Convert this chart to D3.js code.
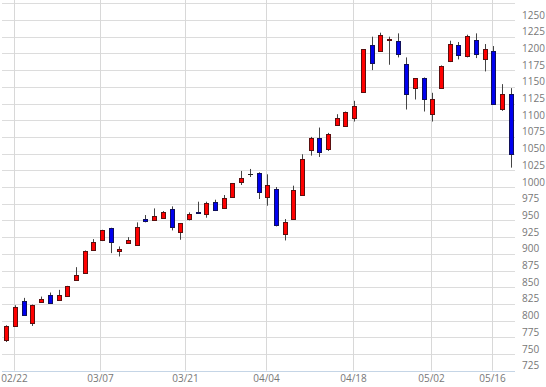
<!DOCTYPE html>
<html><head><meta charset="utf-8">
<script src="https://cdn.jsdelivr.net/npm/d3@7"></script>
<style>html,body{margin:0;padding:0;background:#fff;}svg{display:block;}</style>
</head><body>
<svg id="c" width="546" height="387"></svg>
<script>
const dates = ["2016-02-19","2016-02-22","2016-02-23","2016-02-24","2016-02-25","2016-02-26","2016-02-29","2016-03-01","2016-03-02","2016-03-03","2016-03-04","2016-03-07","2016-03-08","2016-03-09","2016-03-10","2016-03-11","2016-03-14","2016-03-15","2016-03-16","2016-03-17","2016-03-18","2016-03-22","2016-03-23","2016-03-24","2016-03-25","2016-03-28","2016-03-29","2016-03-30","2016-03-31","2016-04-01","2016-04-04","2016-04-05","2016-04-06","2016-04-07","2016-04-08","2016-04-11","2016-04-12","2016-04-13","2016-04-14","2016-04-15","2016-04-18","2016-04-19","2016-04-20","2016-04-21","2016-04-22","2016-04-25","2016-04-26","2016-04-27","2016-04-28","2016-05-02","2016-05-06","2016-05-09","2016-05-10","2016-05-11","2016-05-12","2016-05-13","2016-05-16","2016-05-17","2016-05-18"];
const openV  = [771,792,830,796,828,838,831,837,861,872,906,920,938,904,916,913,952,951,954,967,932,952,963,960,977,968,985,1008,1020,1021,985,997,929,952,988,1056,1074,1057,1093,1092,1104,1142,1212,1204,1220,1218,1184,1148,1163,1110,1148,1188,1213,1196,1220,1191,1204,1117,1139];
const highV  = [793,823,834,824,836,842,846,852,880,905,922,936,939,911,925,947,958,968,964,971,946,962,978,978,981,988,1006,1024,1027,1022,1019,1000,952,1002,1049,1075,1089,1081,1109,1113,1129,1206,1225,1231,1225,1230,1194,1163,1164,1141,1182,1219,1217,1228,1230,1214,1211,1154,1148];
const lowV   = [768,792,807,792,828,825,831,837,861,871,905,919,901,896,915,912,947,950,954,935,921,950,961,954,964,967,984,1003,1015,982,972,941,920,951,987,1047,1045,1054,1092,1091,1098,1142,1175,1203,1183,1194,1116,1131,1113,1098,1147,1187,1191,1194,1193,1173,1125,1114,1029];
const closeV = [792,821,808,823,833,826,838,852,869,904,917,936,918,907,920,940,949,957,962,940,946,960,961,976,965,983,1006,1013,1020,992,1003,943,947,995,1042,1074,1053,1080,1104,1113,1121,1206,1185,1227,1222,1199,1139,1163,1132,1132,1181,1214,1198,1226,1199,1207,1125,1139,1050];
const xTicks = ["2016-02-22","2016-03-07","2016-03-21","2016-04-04","2016-04-18","2016-05-02","2016-05-16"];
const yTicks = [725,750,775,800,825,850,875,900,925,950,975,1000,1025,1050,1075,1100,1125,1150,1175,1200,1225,1250];
const yGrid = yTicks.concat([1275]);

(function () {
const svg = d3.select("#c");
const pLeft = 2, pRight = 515, pBottom = 370.7, pTop = 0;
const x = d3.scaleBand().domain(d3.range(dates.length)).range([pLeft, pRight]).padding(0);
const bw = x.bandwidth();
const cx = i => x(i) + bw / 2;
const y = d3.scaleLinear().domain([725, 1250]).range([370.7, 20]);

const parse = d3.timeParse("%Y-%m-%d");
const dt = dates.map(parse);
function tickIndex(s) {
  const d = parse(s);
  const k = dt.findIndex(v => +v >= +d);
  if (+dt[k] === +d) return k;
  const a = dt[k - 1], b = dt[k];
  return (k - 1) + (d - a) / (b - a);
}
const tickX = s => pLeft + bw * (tickIndex(s) + 0.5);
const fmt = d3.timeFormat("%m/%d");

svg.append("g").selectAll("line").data(yGrid).join("line")
  .attr("x1", pLeft).attr("x2", pRight)
  .attr("y1", d => Math.round(y(d)) + 0.5).attr("y2", d => Math.round(y(d)) + 0.5)
  .attr("stroke", "#dcdcdc").attr("stroke-width", 1);

svg.append("g").selectAll("line").data(xTicks).join("line")
  .attr("x1", d => Math.floor(tickX(d)) - 0.5).attr("x2", d => Math.floor(tickX(d)) - 0.5)
  .attr("y1", pTop).attr("y2", pBottom)
  .attr("stroke", "#d8d8d8").attr("stroke-width", 1);

svg.append("line").attr("x1", pLeft).attr("x2", pRight)
  .attr("y1", Math.round(y(725)) + 0.5).attr("y2", Math.round(y(725)) + 0.5)
  .attr("stroke", "#c5d5e6").attr("stroke-width", 1);

svg.append("g").selectAll("text").data(yTicks).join("text")
  .attr("x", 522).attr("y", d => y(d) - 1.5)
  .attr("font-family", "'Open Sans', 'DejaVu Sans', sans-serif").attr("font-size", 10)
  .attr("fill", "#777").text(d => d);

svg.append("g").selectAll("text").data(xTicks).join("text")
  .attr("x", d => Math.floor(tickX(d)) - 0.5).attr("y", 382)
  .attr("text-anchor", "middle")
  .attr("font-family", "'Open Sans', 'DejaVu Sans', sans-serif").attr("font-size", 10)
  .attr("fill", "#777").text(d => fmt(parse(d)));

const g = svg.append("g");
d3.range(dates.length).forEach(i => {
  const o = openV[i], c = closeV[i], h = highV[i], l = lowV[i];
  const bl = Math.round(cx(i) - 2);
  const wx = bl + 2.5;
  const up = c > o, flat = c === o;
  g.append("line").attr("x1", wx).attr("x2", wx)
    .attr("y1", y(h)).attr("y2", y(l))
    .attr("stroke", "#444").attr("stroke-width", 1);
  if (flat) {
    g.append("line").attr("x1", bl).attr("x2", bl + 5)
      .attr("y1", Math.round(y(o)) + 0.5).attr("y2", Math.round(y(o)) + 0.5)
      .attr("stroke", "#222").attr("stroke-width", 1);
  } else {
    const yt = Math.round(y(Math.max(o, c))), yb = Math.round(y(Math.min(o, c)));
    g.append("rect").attr("x", bl + 0.5).attr("y", yt + 0.5)
      .attr("width", 4).attr("height", Math.max(1, yb - yt))
      .attr("fill", up ? "#ff0000" : "#0000ee")
      .attr("stroke", up ? "#5a1010" : "#10105a").attr("stroke-width", 1);
  }
});
})();
</script>
</body></html>
